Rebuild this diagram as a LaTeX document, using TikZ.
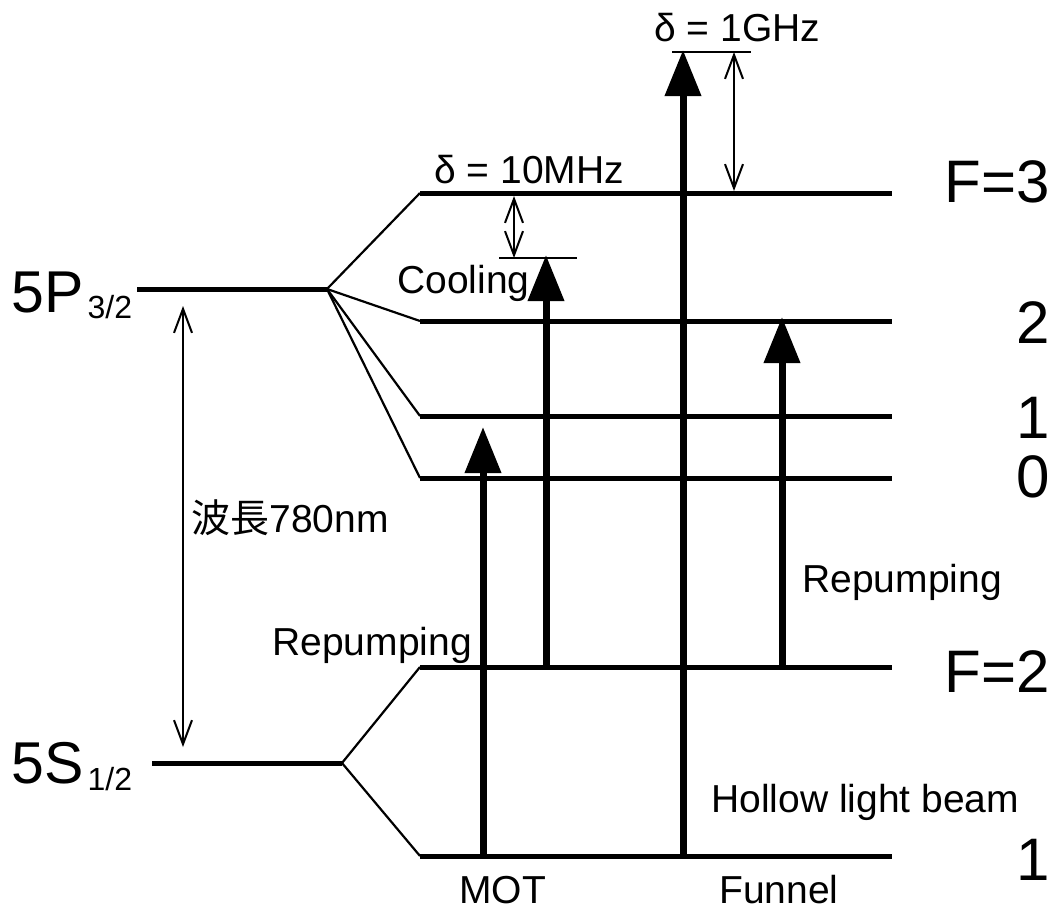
\documentclass[tikz,border=0pt]{standalone}
\usepackage{fontspec}
\setmainfont{Liberation Sans}
\newfontfamily\cjk{Noto Sans CJK JP}
\usepackage{tikz}
\usetikzlibrary{arrows.meta}
\tikzset{
  level/.style={line width=2.5pt},
  fan/.style={line width=1.1pt},
  beam/.style={-{Triangle[length=23pt,width=17.5pt]}, line width=3.5pt},
  gap/.style={{Straight Barb[length=12pt,width=9pt]}-{Straight Barb[length=12pt,width=9pt]}, line width=1pt},
  tick/.style={line width=1pt},
  lbl/.style={inner sep=0pt, anchor=base west, font=\fontsize{19.5pt}{23pt}\selectfont},
  state/.style={inner sep=0pt, anchor=base west, font=\fontsize{29.5pt}{33pt}\selectfont},
  flbl/.style={inner sep=0pt, anchor=base east, font=\fontsize{30pt}{34pt}\selectfont}
}

\begin{document}
\begin{tikzpicture}[x=0.5pt,y=-0.5pt]
        \useasboundingbox (0,0) rectangle (1056,910);
        % fine structure
        \coordinate (pL) at (137,289);
        \coordinate (pR) at (327,289);
        \coordinate (sL) at (152,763);
        \coordinate (sR) at (342,763);
        % hyperfine levels
        \coordinate (f3L) at (420,193); \coordinate (f3R) at (892,193);
        \coordinate (f2L) at (420,321); \coordinate (f2R) at (892,321);
        \coordinate (f1L) at (420,416); \coordinate (f1R) at (892,416);
        \coordinate (f0L) at (420,478); \coordinate (f0R) at (892,478);
        \coordinate (g2L) at (420,667); \coordinate (g2R) at (892,667);
        \coordinate (g1L) at (420,856); \coordinate (g1R) at (892,856);
        \draw[level] (pL) -- (pR);
        \draw[level] (sL) -- (sR);
        \draw[level] (f3L) -- (f3R);
        \draw[level] (f2L) -- (f2R);
        \draw[level] (f1L) -- (f1R);
        \draw[level] (f0L) -- (f0R);
        \draw[level] (g2L) -- (g2R);
        \draw[level] (g1L) -- (g1R);
        \draw[fan] (pR) -- (f3L);
        \draw[fan] (pR) -- (f2L);
        \draw[fan] (pR) -- (f1L);
        \draw[fan] (pR) -- (f0L);
        \draw[fan] (sR) -- (g2L);
        \draw[fan] (sR) -- (g1L);

        \node[state] (p32) at (11,312) {5P\hspace{2pt}\raisebox{-3pt}{\fontsize{16pt}{18pt}\selectfont 3/2}};
        \node[state] (s12) at (11,783) {5S\hspace{2pt}\raisebox{-3.5pt}{\fontsize{16pt}{18pt}\selectfont 1/2}};
        \node[flbl] (nf3) at (1050,202) {F=3};
        \node[flbl] (nf2) at (1050,343) {2};
        \node[flbl] (nf1) at (1050,438) {1};
        \node[flbl] (nf0) at (1050,497) {0};
        \node[flbl] (ng2) at (1050,692) {F=2};
        \node[flbl] (ng1) at (1050,880) {1};

        % wavelength
        \coordinate (wTop) at (183,306);
        \coordinate (wBot) at (183,747);
        \draw[gap] (wTop) -- (wBot);
        \node[lbl] (wave) at (191,532) {{\cjk 波長}780nm};

        % laser beams
        \coordinate (motA) at (483,856); \coordinate (motB) at (483,427);
        \coordinate (coolA) at (546,667); \coordinate (coolB) at (546,255);
        \coordinate (funA) at (683,856); \coordinate (funB) at (683,50);
        \coordinate (repA) at (782,667); \coordinate (repB) at (782,317);
        \draw[beam] (motA) -- (motB);
        \draw[beam] (coolA) -- (coolB);
        \draw[beam] (funA) -- (funB);
        \draw[beam] (repA) -- (repB);

        % detunings
        \coordinate (tcL) at (499,258); \coordinate (tcR) at (577,258);
        \coordinate (tfL) at (672,52); \coordinate (tfR) at (751,52);
        \draw[tick] (tcL) -- (tcR);
        \draw[tick] (tfL) -- (tfR);
        \coordinate (dcA) at (514,196); \coordinate (dcB) at (514,258);
        \coordinate (dfA) at (734,52); \coordinate (dfB) at (734,191);
        \draw[gap] (dcA) -- (dcB);
        \draw[gap] (dfA) -- (dfB);
        \node[lbl] (d10) at (434,183) {δ = 10MHz};
        \node[lbl] (d1g) at (654,41) {δ = 1GHz};

        \node[lbl] (cool) at (397,293) {Cooling};
        \node[lbl] (rep1) at (272,655) {Repumping};
        \node[lbl] (rep2) at (802,592) {Repumping};
        \node[lbl] (hollow) at (711,812) {Hollow light beam};
        \node[lbl] (mot) at (459,903) {MOT};
        \node[lbl] (funnel) at (719,903) {Funnel};
      \end{tikzpicture}
\end{document}
